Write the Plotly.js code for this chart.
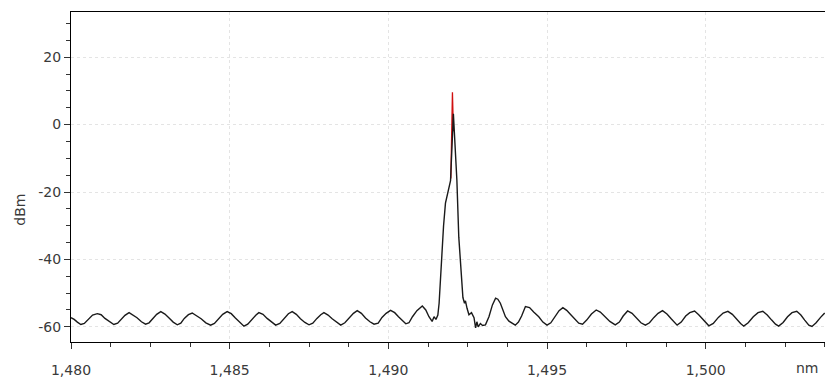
<!DOCTYPE html>
<html>
<head>
<meta charset="utf-8">
<script src="https://cdn.plot.ly/plotly-3.0.1.min.js"></script>
<style>
  html, body { margin: 0; padding: 0; background: #fff; }
  #chart { width: 825px; height: 381px; }
</style>
</head>
<body>
<div id="chart"></div>
<script>
// Optical spectrum trace: wavelength (nm) and power (dBm)
const wavelengthNm = [
  1480.00, 1480.10, 1480.20, 1480.31, 1480.42, 1480.55, 1480.68, 1480.83, 1480.95, 1481.07,
  1481.20, 1481.35, 1481.47, 1481.58, 1481.70, 1481.83, 1481.95, 1482.08, 1482.22, 1482.35,
  1482.46, 1482.58, 1482.70, 1482.83, 1482.96, 1483.09, 1483.22, 1483.35, 1483.46, 1483.57,
  1483.70, 1483.82, 1483.95, 1484.10, 1484.25, 1484.40, 1484.52, 1484.65, 1484.78, 1484.92,
  1485.05, 1485.18, 1485.32, 1485.45, 1485.57, 1485.70, 1485.83, 1485.92, 1486.05, 1486.18,
  1486.32, 1486.45, 1486.58, 1486.72, 1486.85, 1486.97, 1487.10, 1487.23, 1487.37, 1487.50,
  1487.62, 1487.75, 1487.87, 1487.97, 1488.10, 1488.23, 1488.37, 1488.50, 1488.63, 1488.77,
  1488.90, 1489.02, 1489.15, 1489.28, 1489.42, 1489.55, 1489.68, 1489.80, 1489.93, 1490.07,
  1490.20, 1490.32, 1490.45, 1490.55, 1490.65, 1490.76, 1490.90, 1491.07, 1491.18, 1491.28,
  1491.38, 1491.44, 1491.50, 1491.56, 1491.60, 1491.67, 1491.74, 1491.80, 1491.90, 1491.96,
  1492.05, 1492.16, 1492.22, 1492.30, 1492.35, 1492.40, 1492.43, 1492.48, 1492.54, 1492.62,
  1492.70, 1492.75, 1492.79, 1492.83, 1492.90, 1492.97, 1493.06, 1493.17, 1493.28, 1493.38,
  1493.45, 1493.53, 1493.62, 1493.69, 1493.80, 1493.90, 1494.00, 1494.10, 1494.20, 1494.32,
  1494.45, 1494.58, 1494.74, 1494.87, 1495.00, 1495.12, 1495.25, 1495.38, 1495.50, 1495.62,
  1495.75, 1495.88, 1496.00, 1496.12, 1496.25, 1496.40, 1496.55, 1496.68, 1496.82, 1496.98,
  1497.15, 1497.28, 1497.40, 1497.54, 1497.68, 1497.82, 1497.96, 1498.10, 1498.23, 1498.37,
  1498.50, 1498.64, 1498.78, 1498.92, 1499.00, 1499.10, 1499.23, 1499.37, 1499.50, 1499.65,
  1499.78, 1499.93, 1500.10, 1500.24, 1500.40, 1500.55, 1500.70, 1500.84, 1500.98, 1501.10,
  1501.20, 1501.34, 1501.50, 1501.65, 1501.80, 1501.94, 1502.08, 1502.20, 1502.30, 1502.44,
  1502.58, 1502.72, 1502.87, 1503.00, 1503.12, 1503.25, 1503.35, 1503.48, 1503.62, 1503.75
];
const powerDbm = [
  -57.3, -57.8, -58.6, -59.3, -59.0, -57.6, -56.5, -56.1, -56.4, -57.5,
  -58.3, -59.3, -58.9, -57.7, -56.6, -55.8, -56.5, -57.3, -58.5, -59.2,
  -58.8, -57.4, -56.3, -55.5, -56.2, -57.4, -58.6, -59.4, -58.9, -57.5,
  -56.4, -55.9, -56.6, -57.6, -58.8, -59.5, -59.0, -57.6, -56.3, -55.5,
  -56.1, -57.4, -58.7, -59.8, -59.2, -57.8, -56.5, -55.8, -56.3, -57.5,
  -58.6, -59.5, -59.0, -57.4, -56.1, -55.5, -56.3, -57.6, -58.7, -59.4,
  -58.9, -57.5, -56.4, -55.8, -56.5, -57.6, -58.7, -59.5, -58.8, -57.3,
  -56.0, -55.2, -56.0, -57.4, -58.5, -59.2, -58.9, -57.2, -56.0, -55.1,
  -55.8, -57.0, -58.2, -59.1, -58.8, -57.0, -55.2, -53.8, -55.0, -57.0,
  -58.4, -57.0, -57.8, -56.5, -53.0, -40.1, -30.0, -23.3, -19.4, -16.6,
  3.2, -16.6, -33.4, -46.4, -51.3, -53.0, -52.3, -54.5, -56.4, -55.8,
  -57.3, -60.3, -58.5, -60.0, -59.0, -59.6, -59.4, -57.0, -53.5, -51.5,
  -51.8, -53.0, -55.2, -57.0, -58.3, -58.9, -59.5, -58.6, -56.8, -54.0,
  -54.3, -55.6, -57.0, -58.6, -59.5, -58.8, -57.0, -55.2, -54.3, -55.1,
  -56.4, -57.8, -58.9, -59.2, -58.0, -56.2, -55.0, -55.6, -57.0, -58.4,
  -59.4, -58.6, -56.8, -55.3, -56.0, -57.4, -58.8, -59.5, -58.8, -57.2,
  -56.0, -55.2, -56.2, -57.7, -58.6, -59.5, -58.6, -56.8, -55.8, -55.3,
  -56.4, -58.0, -59.7, -59.0, -57.2, -55.9, -55.4, -56.3, -57.8, -59.0,
  -59.8, -58.8, -57.0, -55.8, -55.4, -56.5, -58.0, -59.2, -59.8, -58.7,
  -57.0, -55.8, -55.4, -56.5, -58.0, -59.5, -59.9, -58.8, -57.2, -55.9
];

// Peak-hold spike at the laser line
const peakWavelengthNm = [1491.97, 1492.02, 1492.05];
const peakPowerDbm = [-16.0, 9.6, -2.0];

const xTickVals = [1480, 1485, 1490, 1495, 1500];
const xTickText = ['1,480', '1,485', '1,490', '1,495', '1,500'];
const yTickVals = [-60, -40, -20, 0, 20];
const yTickText = ['-60', '-40', '-20', '0', '20'];

const labelFont = { family: 'DejaVu Sans, sans-serif', size: 14, color: '#3a3a3a' };

const traces = [
  {
    x: peakWavelengthNm, y: peakPowerDbm,
    type: 'scatter', mode: 'lines',
    line: { color: '#d01010', width: 1.3 },
    hoverinfo: 'skip', showlegend: false
  },
  {
    x: wavelengthNm, y: powerDbm,
    type: 'scatter', mode: 'lines',
    line: { color: '#1a1a1a', width: 1.4 },
    showlegend: false
  }
];

const layout = {
  width: 825, height: 381,
  margin: { l: 71, r: 0, t: 12, b: 39 },
  paper_bgcolor: '#fff', plot_bgcolor: '#fff',
  showlegend: false,
  xaxis: {
    range: [1480, 1503.76],
    tickmode: 'array', tickvals: xTickVals, ticktext: xTickText,
    ticks: 'outside', ticklen: 6, tickcolor: '#333', tickwidth: 1,
    ticklabelstandoff: 9,
    showline: true, linecolor: '#000', linewidth: 1, mirror: true,
    showgrid: true, gridcolor: '#e4e4e4', griddash: 'dot', gridwidth: 1,
    zeroline: false,
    tickfont: labelFont,
    minor: { dtick: 1.25, tick0: 1480, ticks: 'outside', ticklen: 4, tickcolor: '#333', showgrid: false }
  },
  yaxis: {
    range: [-64.5, 33.4],
    tickmode: 'array', tickvals: yTickVals, ticktext: yTickText,
    ticks: 'outside', ticklen: 6, tickcolor: '#333', tickwidth: 1,
    showline: true, linecolor: '#000', linewidth: 1,
    showgrid: true, gridcolor: '#e4e4e4', griddash: 'dot', gridwidth: 1,
    zeroline: false,
    tickfont: labelFont,
    minor: { dtick: 5, tick0: 0, ticks: 'outside', ticklen: 4, tickcolor: '#333', showgrid: false }
  },
  annotations: [
    {
      text: 'dBm', xref: 'paper', yref: 'paper', x: -0.068, y: 0.40,
      xanchor: 'center', yanchor: 'middle', textangle: -90, showarrow: false,
      font: labelFont
    },
    {
      text: 'nm', xref: 'paper', yref: 'paper', x: 0.977, y: -0.08,
      xanchor: 'center', yanchor: 'middle', showarrow: false,
      font: labelFont
    }
  ]
};

Plotly.newPlot('chart', traces, layout, { displayModeBar: false, staticPlot: true });
</script>
</body>
</html>
